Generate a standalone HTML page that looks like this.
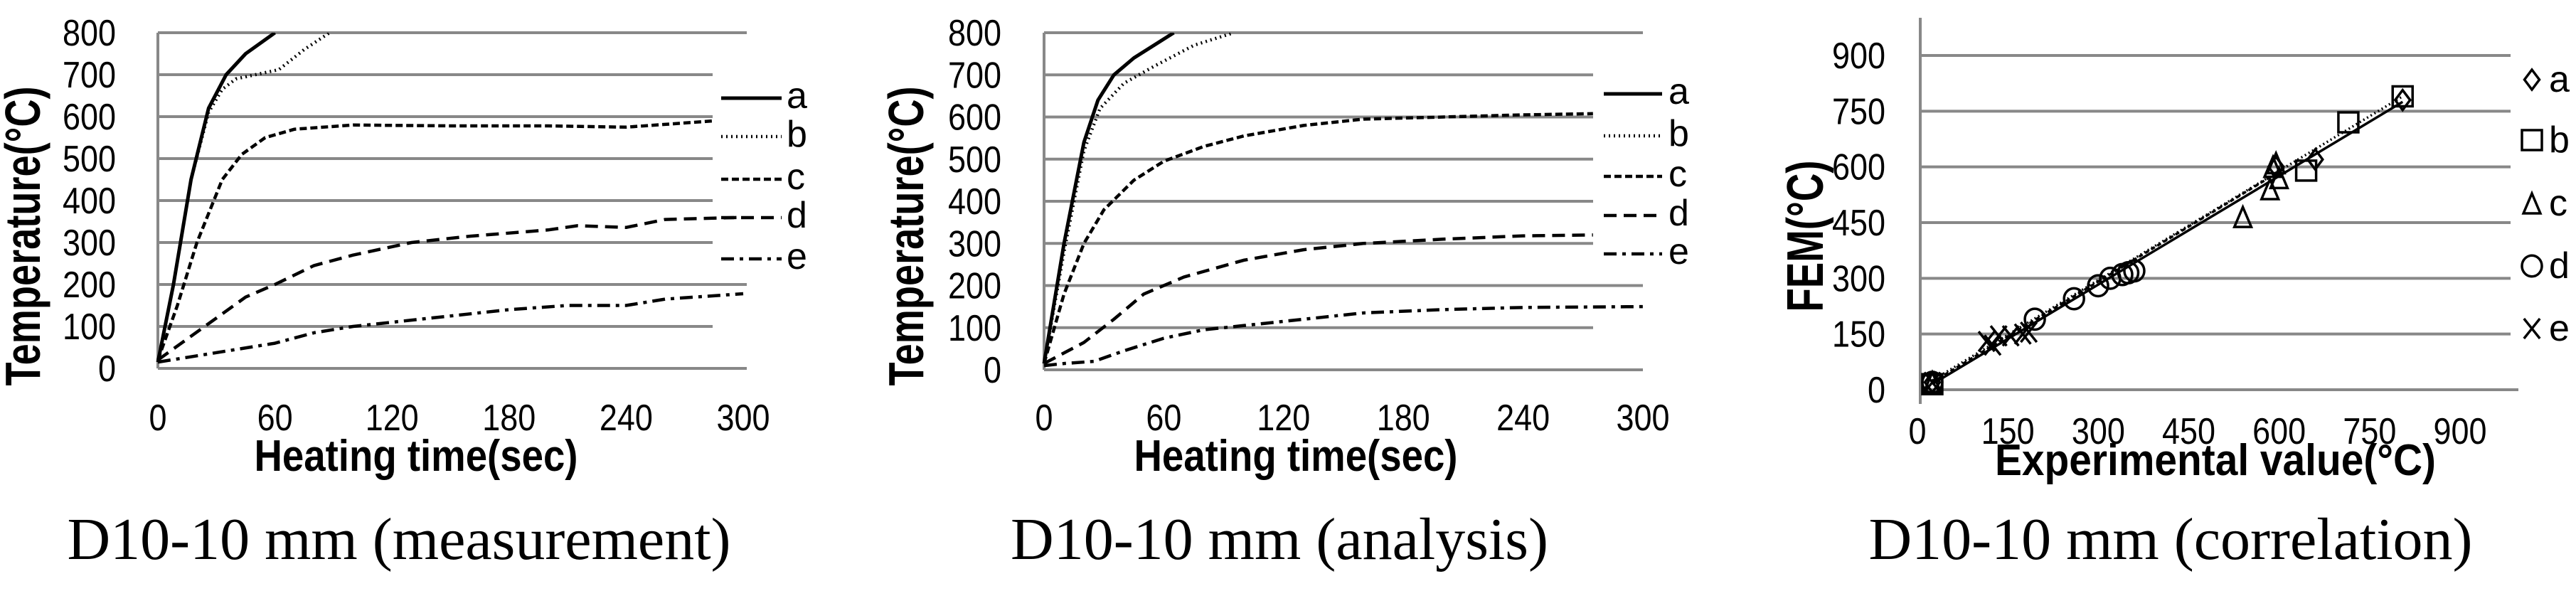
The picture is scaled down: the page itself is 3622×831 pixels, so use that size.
<!DOCTYPE html>
<html><head><meta charset="utf-8"><style>
html,body{margin:0;padding:0;background:#fff}
svg{display:block}
text{font-family:"Liberation Sans",sans-serif;fill:#000}
.cap{font-family:"Liberation Serif",serif;font-size:84px}
.tk{font-size:52px}
.ttl{font-size:62px;font-weight:bold}
</style></head><body>
<svg id="fig" xmlns="http://www.w3.org/2000/svg" width="3622" height="831" viewBox="0 0 3622 831">
<text class="cap" x="561" y="786" text-anchor="middle">D10-10 mm (measurement)</text>
<text class="cap" x="1799" y="786" text-anchor="middle">D10-10 mm (analysis)</text>
<text class="cap" x="3052" y="786" text-anchor="middle">D10-10 mm (correlation)</text>
</svg>
<script>
const NS="http://www.w3.org/2000/svg";
const svg=document.getElementById('fig');
function mk(tag,attrs,parent){const e=document.createElementNS(NS,tag);for(const k in attrs)e.setAttribute(k,attrs[k]);(parent||svg).appendChild(e);return e;}

// ---- data ----
const timeTicks=[0,60,120,180,240,300];
const tempTicks=[0,100,200,300,400,500,600,700,800];
const seriesNames=['a','b','c','d','e'];
// measurement
const measA=[[0,15],[8,200],[17,450],[26,620],[35,700],[45,750],[60,800]];
const measB=[[0,15],[8,200],[17,450],[26,610],[33,665],[40,690],[50,700],[62,712],[75,760],[88,800]];
const measC=[[0,20],[10,150],[20,300],[33,450],[43,510],[55,550],[70,570],[100,580],[150,578],[200,578],[240,575],[270,585],[285,590]];
const measD=[[0,20],[15,70],[30,120],[45,170],[60,200],[80,245],[100,270],[130,300],[160,315],[200,330],[215,340],[240,336],[260,355],[300,360]];
const measE=[[0,15],[20,30],[40,45],[60,60],[80,85],[100,100],[120,110],[140,120],[180,140],[210,150],[240,150],[260,165],[300,178]];
// analysis
const anaA=[[0,15],[10,300],[20,540],[27,640],[35,700],[45,740],[55,770],[65,800]];
const anaB=[[0,15],[10,280],[20,520],[28,620],[40,680],[55,720],[75,770],[95,800]];
const anaC=[[0,15],[10,180],[20,300],[30,380],[45,450],[60,495],[80,530],[100,555],[130,580],[160,595],[200,600],[240,605],[275,608]];
const anaD=[[0,15],[10,40],[20,65],[35,120],[50,180],[70,220],[100,260],[130,285],[160,300],[200,310],[240,318],[275,320]];
const anaE=[[0,10],[10,15],[25,20],[40,45],[60,75],[80,95],[100,105],[130,120],[160,135],[200,143],[240,148],[300,150]];
// correlation
const corTicks=[0,150,300,450,600,750,900];
const corA=[[20,20],[590,600],[655,620],[800,780]];
const corB=[[20,15],[640,590],[710,720],[800,790]];
const corC=[[20,20],[535,465],[580,540],[585,600],[590,610],[595,570]];
const corD=[[20,20],[190,190],[255,245],[295,280],[315,300],[335,310],[345,315],[355,320]];
const corE=[[20,20],[110,130],[120,120],[130,145],[150,145],[170,150],[180,155]];
const fitSolid=[[20,15],[800,775]];
const fitDotted=[[20,25],[800,790]];
const fitDashed=[[20,20],[600,592]];

const dashes=['', '2 5', '10 5', '18 10', '18 8 5 8'];

function tickText(parent,x,y,anchor,str){
  const t=mk('text',{x:x,y:y,'text-anchor':anchor,class:'tk',textLength:String(str).length*25,lengthAdjust:'spacingAndGlyphs'},parent);
  t.textContent=str;
  return t;
}

function timeChart(name,x0,x300,y0,y800,series,legX,legLabX,legY,gridFull,gridShort,xTitleX,yTitleX,tickRight){
  const g=mk('g',{});
  
  
  const sx=t=>x0+(t/300)*(x300-x0);
  const sy=v=>y0-(v/800)*(y0-y800);
  tempTicks.forEach(v=>{
    const full=(v===0||v===800||v===200);
    const ln=mk('line',{x1:x0,x2:full?gridFull:gridShort,y1:sy(v),y2:sy(v),stroke:'#888','stroke-width':4},g);
    
    
    const t=tickText(g,tickRight,sy(v)+18,'end',v);
    
    
  });
  const ax=mk('line',{x1:x0,x2:x0,y1:y800,y2:y0,stroke:'#888','stroke-width':4},g);
  
  
  timeTicks.forEach(t=>{
    const e=tickText(g,sx(t),605,'middle',t);
    
    
  });
  const xt=mk('text',{x:xTitleX,y:662,'text-anchor':'middle',class:'ttl',textLength:455,lengthAdjust:'spacingAndGlyphs'},g);
  xt.textContent='Heating time(sec)';
  
  
  const yt=mk('text',{x:0,y:0,'text-anchor':'middle',class:'ttl',style:'font-size:70px',textLength:421,lengthAdjust:'spacingAndGlyphs',transform:`translate(${yTitleX+26},332) rotate(-90)`},g);
  yt.textContent='Temperature(°C)';
  
  
  const clip=mk('clipPath',{id:name+'-clip'},g);
  mk('rect',{x:x0-10,y:y800,width:x300-x0+20,height:y0-y800+20},clip);
  series.forEach((s,i)=>{
    const d=s.map((p,j)=>(j?'L':'M')+sx(p[0]).toFixed(1)+' '+sy(p[1]).toFixed(1)).join(' ');
    const pth=mk('path',{d:d,fill:'none',stroke:'#000','stroke-width':i===0?5:4.5,'stroke-dasharray':dashes[i],'stroke-linejoin':'round','clip-path':`url(#${name}-clip)`},g);
    
    
    const ll=mk('line',{x1:legX[0],x2:legX[1],y1:legY[i],y2:legY[i],stroke:'#000','stroke-width':i===0?5:4.5,'stroke-dasharray':dashes[i]},g);
    
    
    const lt=mk('text',{x:legLabX,y:legY[i]+14,class:'tk'},g);
    lt.textContent=seriesNames[i];
    
    
  });
}
timeChart('chart-measurement',222,1045,518,46,[measA,measB,measC,measD,measE],[1014,1099],1106,[138,192,252,306,364],1050,1002,585,30,163);
timeChart('chart-analysis',1468,2310,520,46,[anaA,anaB,anaC,anaD,anaE],[2255,2337],2346,[132,191,248,303,357],2310,2240,1822,1272,1408);

// correlation
(function(){
  const g=mk('g',{});
  
  
  const x0=2700,x900=3463,y0=548,y900=78;
  const sx=v=>x0+v/900*(x900-x0);
  const sy=v=>y0-v/900*(y0-y900);
  corTicks.forEach(v=>{
    const ln=mk('line',{x1:x0,x2:v===0?3541:3530,y1:sy(v),y2:sy(v),stroke:'#888','stroke-width':4},g);
    
    
    const t=tickText(g,2651,sy(v)+18,'end',v);
    
    
    const tx=tickText(g,sx(v)-4,624,'middle',v);
    
    
  });
  const ax=mk('line',{x1:x0,x2:x0,y1:25,y2:568,stroke:'#888','stroke-width':4},g);
  
  
  const xt=mk('text',{x:3115,y:668,'text-anchor':'middle',class:'ttl',textLength:620,lengthAdjust:'spacingAndGlyphs'},g);
  xt.textContent='Experimental value(°C)';
  
  
  const yt=mk('text',{x:0,y:0,'text-anchor':'middle',class:'ttl',style:'font-size:72px',textLength:213,lengthAdjust:'spacingAndGlyphs',transform:'translate(2563,332) rotate(-90)'},g);
  yt.textContent='FEM(°C)';
  
  
  [[fitSolid,''],[fitDotted,'2 4'],[fitDashed,'6 4']].forEach((f,i)=>{
    const l=mk('line',{x1:sx(f[0][0][0]),y1:sy(f[0][0][1]),x2:sx(f[0][1][0]),y2:sy(f[0][1][1]),stroke:'#000','stroke-width':3.5,'stroke-dasharray':f[1]},g);
    
    
  });
  function marker(kind,cx,cy,parent){
    const r=14,st={fill:'none',stroke:'#000','stroke-width':3.5};
    let e;
    if(kind===0)e=mk('polygon',Object.assign({points:`${cx},${cy-r} ${cx+r*0.75},${cy} ${cx},${cy+r} ${cx-r*0.75},${cy}`},st),parent);
    else if(kind===1)e=mk('rect',Object.assign({x:cx-r,y:cy-r,width:2*r,height:2*r},st),parent);
    else if(kind===2)e=mk('polygon',Object.assign({points:`${cx},${cy-r} ${cx+r*0.85},${cy+r} ${cx-r*0.85},${cy+r}`},st),parent);
    else if(kind===3)e=mk('ellipse',Object.assign({cx:cx,cy:cy,rx:r,ry:r*1.05},st),parent);
    else e=mk('path',Object.assign({d:`M${cx-r*0.8} ${cy-r} L${cx+r*0.8} ${cy+r} M${cx+r*0.8} ${cy-r} L${cx-r*0.8} ${cy+r}`},st),parent);
    return e;
  }
  const corSeries=[corA,corB,corC,corD,corE];
  const legY=[112,197,286,374,462];
  corSeries.forEach((s,i)=>{
    const sg=mk('g',{},g);
    
    
    s.forEach(p=>{
      const m=marker(i,sx(p[0]),sy(p[1]),sg);
      
      
    });
    const lm=marker(i,3560,legY[i],g);
    
    
    const lt=mk('text',{x:3584,y:legY[i]+17,class:'tk'},g);
    lt.textContent=seriesNames[i];
    
    
  });
})();
</script>
</body></html>
